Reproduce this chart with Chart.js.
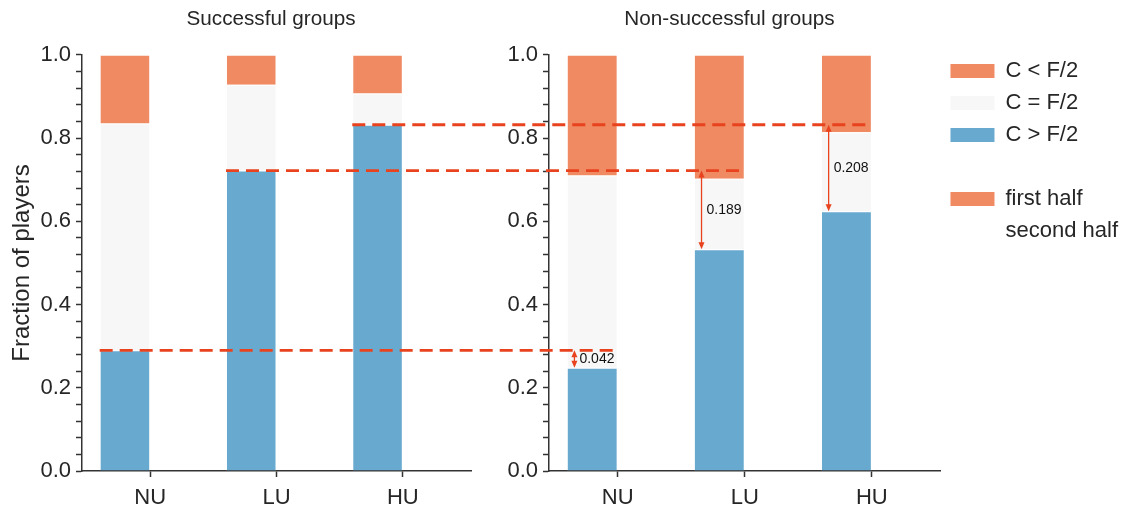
<!DOCTYPE html>
<html>
<head>
<meta charset="utf-8">
<script src="https://cdn.jsdelivr.net/npm/chart.js@4.4.1/dist/chart.umd.min.js"></script>
<style>
  html, body { margin: 0; padding: 0; background: #fff; }
  #wrap { position: relative; width: 1128px; height: 507px; overflow: hidden; }
  #wrap canvas { position: absolute; top: 0; }
  #left { left: 0; }
  #right { left: 331px; }
  #overlay { left: 0; pointer-events: none; }
</style>
</head>
<body>
<div id="wrap">
  <canvas id="left" width="542" height="507"></canvas>
  <canvas id="right" width="797" height="507"></canvas>
  <canvas id="overlay" width="1128" height="507"></canvas>
</div>
<script>
// categories
const groups = ['NU', 'LU', 'HU'];

// successful groups, fraction of players (first half)
const succHigh = [0.290, 0.722, 0.832];   // C > F/2
const succEqual = [0.545, 0.206, 0.075];  // C = F/2
const succLow = [0.165, 0.072, 0.093];    // C < F/2

// non-successful groups
const failHigh = [0.248, 0.533, 0.624];
const failEqual = [0.462, 0.169, 0.190];
const failLow = [0.290, 0.298, 0.186];

// axis ticks / legend
const yMajor = [0, 0.2, 0.4, 0.6, 0.8, 1.0];
const yMinorStep = 0.04;
const legendLabels = ['C < F/2', 'C = F/2', 'C > F/2', '', 'first half', 'second half'];

const ORANGE = '#ef8a62';
const GREY = '#f7f7f7';
const BLUE = '#67a9cf';
const RED = '#e8431e';
const TEXT = '#262626';
const AXIS = '#333333';
const NONE = 'rgba(0,0,0,0)';
const legendColors = [ORANGE, GREY, BLUE, NONE, ORANGE, NONE];

Chart.defaults.font.family = "'Liberation Sans', Arial, sans-serif";
Chart.defaults.color = TEXT;

const yTicks = [];
for (let k = 0; k <= Math.round(1 / yMinorStep); k++) yTicks.push(+(k * yMinorStep).toFixed(2));

function barSets(high, equal, low) {
    const pts = arr => arr.map((v, i) => ({ x: i - 0.2, y: v }));
    return [
        { label: 'C > F/2', data: pts(high), backgroundColor: BLUE },
        { label: 'C = F/2', data: pts(equal), backgroundColor: GREY },
        { label: 'C < F/2', data: pts(low), backgroundColor: ORANGE }
    ].map(d => Object.assign(d, {
        barPercentage: 0.4, categoryPercentage: 1,
        borderWidth: 1, borderColor: 'rgba(255,255,255,0.35)', borderSkipped: 'start'
    }));
}

function panelOptions(title, yWidth, rightGap, showYTitle, legend) {
    const scales = {
        x: {
            type: 'linear', min: -0.54, max: 2.54, stacked: true, offset: false,
            afterBuildTicks: ax => { ax.ticks = groups.map((g, i) => ({ value: i })); },
            afterFit: ax => { ax.height = 36; },
            ticks: { callback: v => groups[v], font: { size: 22 }, color: TEXT, padding: 8, maxRotation: 0, autoSkip: false },
            grid: { offset: false, drawOnChartArea: false, drawTicks: true, tickLength: 6, tickColor: AXIS, tickWidth: 1.5 },
            border: { display: true, color: AXIS, width: 1.5 }
        },
        y: {
            min: 0, max: 1, stacked: true,
            afterBuildTicks: ax => { ax.ticks = yTicks.map(v => ({ value: v })); },
            afterFit: ax => { ax.width = yWidth; },
            ticks: {
                autoSkip: false, padding: 5, color: TEXT, font: { size: 22 },
                callback: v => yMajor.includes(v) ? v.toFixed(1) : ''
            },
            grid: { drawOnChartArea: false, drawTicks: true, tickLength: 6, tickColor: AXIS, tickWidth: 1.5 },
            border: { display: true, color: AXIS, width: 1.5 },
            title: {
                display: showYTitle, text: 'Fraction of players', color: TEXT,
                font: { size: 24 }, padding: { top: 8, bottom: 0 }
            }
        }
    };
    if (rightGap) {
        // empty spacer on the right so the panel title stays centred on the figure column
        scales.gap = {
            position: 'right', axis: 'y', min: 0, max: 1,
            afterFit: ax => { ax.width = rightGap; },
            ticks: { display: false }, grid: { display: false }, border: { display: false }
        };
    }
    return {
        responsive: false,
        animation: false,
        layout: { padding: 0 },
        plugins: {
            title: {
                display: true, text: title, color: TEXT,
                font: { size: 20.7, weight: 'normal' },
                padding: { top: 7, bottom: 23 }
            },
            legend: legend || { display: false },
            tooltip: { enabled: false }
        },
        scales
    };
}

const leftCanvas = document.getElementById('left');
const rightCanvas = document.getElementById('right');

const leftChart = new Chart(leftCanvas, {
    type: 'bar',
    data: { datasets: barSets(succHigh, succEqual, succLow) },
    options: panelOptions('Successful groups', 82, 71, true, null)
});

const rightChart = new Chart(rightCanvas, {
    type: 'bar',
    data: { datasets: barSets(failHigh, failEqual, failLow) },
    options: panelOptions('Non-successful groups', 218, 0, false, {
        display: true, position: 'right', align: 'start', fullSize: true,
        title: { display: true, text: '', font: { size: 10 }, padding: { top: 0, bottom: 38 } },
        labels: {
            boxWidth: 44, boxHeight: 14, padding: 10, color: TEXT, font: { size: 22 },
            generateLabels: () => legendLabels.map((t, i) => ({
                text: t, fillStyle: legendColors[i], strokeStyle: legendColors[i],
                lineWidth: 0, hidden: false, fontColor: TEXT
            }))
        }
    })
});

// dashed reference lines and difference arrows across both panels
const ov = document.getElementById('overlay').getContext('2d');
const offL = leftCanvas.offsetLeft, offR = rightCanvas.offsetLeft;
const lx = leftChart.scales.x, ly = leftChart.scales.y;
const rx = rightChart.scales.x, ry = rightChart.scales.y;

ov.strokeStyle = RED;
ov.lineWidth = 2.8;
ov.setLineDash([13, 7]);
groups.forEach((g, i) => {
    const y = ly.getPixelForValue(succHigh[i]);
    ov.beginPath();
    ov.moveTo(offL + lx.getPixelForValue(i - 0.4), y);
    ov.lineTo(offR + rx.getPixelForValue(i), y);
    ov.stroke();
});
ov.setLineDash([]);

function head(x, y, dir) {
    ov.beginPath();
    ov.moveTo(x, y);
    ov.lineTo(x - 3, y + dir * 7);
    ov.lineTo(x + 3, y + dir * 7);
    ov.closePath();
    ov.fill();
}

ov.fillStyle = RED;
ov.lineWidth = 1.3;
groups.forEach((g, i) => {
    const x = offR + rx.getPixelForValue(i - 0.34);
    const y1 = ry.getPixelForValue(succHigh[i]);
    const y2 = ry.getPixelForValue(failHigh[i]);
    ov.strokeStyle = RED;
    ov.beginPath();
    ov.moveTo(x, y1 + 3);
    ov.lineTo(x, y2 - 3);
    ov.stroke();
    head(x, y1, 1);
    head(x, y2, -1);
    ov.fillStyle = '#111';
    ov.font = "14px 'Liberation Sans', Arial, sans-serif";
    ov.textBaseline = 'middle';
    ov.fillText((succHigh[i] - failHigh[i]).toFixed(3), x + 5, (y1 + y2) / 2);
    ov.fillStyle = RED;
});
</script>
</body>
</html>
